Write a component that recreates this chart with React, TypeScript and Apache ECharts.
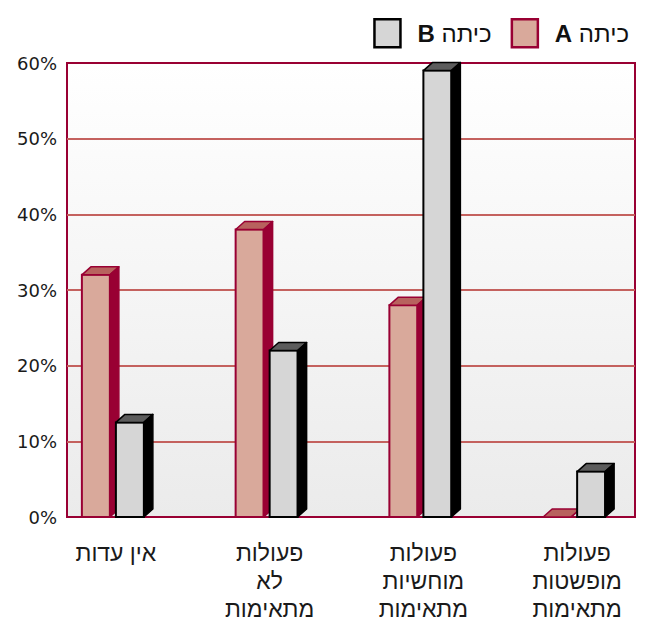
import React, { useEffect, useRef } from "react";
import * as echarts from "echarts";

const categories = [
  "אין עדות",
  "פעולות\nלא\nמתאימות",
  "פעולות\nמוחשיות\nמתאימות",
  "פעולות\nמופשטות\nמתאימות",
];
const seriesNames = ["כיתה A", "כיתה B"];
const classA = [32, 38, 28, 0];
const classB = [12.5, 22, 59, 6];
const yMin = 0;
const yMax = 60;
const yStep = 10;

const styleA = { front: "#D9A99B", top: "#B8625E", side: "#990033", border: "#990033" };
const styleB = { front: "#D6D6D6", top: "#5C5C5C", side: "#000000", border: "#000000" };

function makeRender(st: any, offsetRatio: number) {
  return (params: any, api: any) => {
    const ci = api.value(0);
    const v = api.value(1);
    const band = api.size([1, 0])[0];
    const w = band * 0.182;
    const dx = 9;
    const dy = 8;
    const top = api.coord([ci, v]);
    const base = api.coord([ci, 0]);
    const cx = top[0] + band * offsetRatio;
    const x0 = cx - w / 2;
    const x1 = cx + w / 2;
    const yt = top[1];
    const yb = base[1];
    return {
      type: "group",
      children: [
        {
          type: "rect",
          shape: { x: x0, y: yt, width: w, height: yb - yt },
          style: { fill: st.front, stroke: st.border, lineWidth: 2 },
        },
        {
          type: "polygon",
          shape: { points: [[x0, yt], [x0 + dx, yt - dy], [x1 + dx, yt - dy], [x1, yt]] },
          style: { fill: st.top, stroke: st.border, lineWidth: 1.5, lineJoin: "round" },
        },
        {
          type: "polygon",
          shape: { points: [[x1, yt], [x1 + dx, yt - dy], [x1 + dx, yb - dy], [x1, yb]] },
          style: { fill: st.side, stroke: st.border, lineWidth: 1.5, lineJoin: "round" },
        },
      ],
    };
  };
}

export default function App() {
  const ref = useRef<HTMLDivElement>(null);
  useEffect(() => {
    if (!ref.current) return;
    const chart = echarts.init(ref.current, null, { renderer: "svg" });
    const nSplit = (yMax - yMin) / yStep + 1;
    const splitColors: string[] = [];
    for (let i = 0; i < nSplit; i++) splitColors.push(i === 0 || i === nSplit - 1 ? "#990033" : "#C4615E");
    chart.setOption({
      animation: false,
      backgroundColor: "#ffffff",
      legend: {
        right: 14,
        top: 13,
        itemGap: 19,
        itemWidth: 26,
        itemHeight: 28,
        icon: "rect",
        data: [
          { name: seriesNames[1], itemStyle: { color: styleB.front, borderColor: styleB.border, borderWidth: 2.5 } },
          { name: seriesNames[0], itemStyle: { color: styleA.front, borderColor: styleA.border, borderWidth: 2.5 } },
        ],
        formatter: (name: string) => {
          const letter = name.split(" ")[1];
          const word = name.split(" ")[0];
          return "{b|" + letter + "} {t|" + word + "}";
        },
        textStyle: {
          padding: [0, 0, 0, 12],
          fontSize: 24,
          rich: {
            b: { fontFamily: "Liberation Sans", fontWeight: "bold", fontSize: 24, color: "#111" },
            t: { fontFamily: "Liberation Sans", fontSize: 24, color: "#111" },
          },
        },
      },
      grid: [
        {
          left: 67,
          top: 63,
          width: 568,
          height: 454,
          outerBoundsMode: "none",
          containLabel: false,
          show: true,
          borderWidth: 2,
          borderColor: "#990033",
          backgroundColor: new echarts.graphic.LinearGradient(0, 0, 0, 1, [
            { offset: 0, color: "#FFFFFF" },
            { offset: 1, color: "#EBEBEB" },
          ]),
        },
        { left: 36, top: 63, width: 615, height: 454, outerBoundsMode: "none", containLabel: false },
      ],
      xAxis: [
        { type: "category", gridIndex: 0, data: categories, show: false },
        {
          type: "category",
          gridIndex: 1,
          data: categories,
          axisLine: { show: false },
          axisTick: { show: false },
          axisLabel: {
            margin: 22,
            interval: 0,
            fontFamily: "Liberation Sans",
            fontSize: 23,
            lineHeight: 28,
            color: "#1a1a1a",
            align: "center",
            padding: [0, 0, 0, 6],
          },
        },
      ],
      yAxis: [
        {
          type: "value",
          gridIndex: 0,
          min: yMin,
          max: yMax,
          interval: yStep,
          axisLine: { show: false },
          axisTick: { show: false },
          axisLabel: {
            formatter: "{value}%",
            fontFamily: "DejaVu Sans",
            fontSize: 18,
            color: "#1a1a1a",
            margin: 10,
          },
          splitLine: { show: true, lineStyle: { color: splitColors, width: 2 } },
        },
        { type: "value", gridIndex: 1, min: yMin, max: yMax, interval: yStep, show: false, splitLine: { show: false } },
      ],
      series: [
        {
          name: seriesNames[0],
          type: "custom",
          xAxisIndex: 1,
          yAxisIndex: 1,
          itemStyle: { color: styleA.front },
          renderItem: makeRender(styleA, -0.1106),
          data: classA.map((v, i) => [i, v]),
          encode: { x: 0, y: 1 },
          clip: false,
        },
        {
          name: seriesNames[1],
          type: "custom",
          xAxisIndex: 1,
          yAxisIndex: 1,
          itemStyle: { color: styleB.front },
          renderItem: makeRender(styleB, 0.1106),
          data: classB.map((v, i) => [i, v]),
          encode: { x: 0, y: 1 },
          clip: false,
        },
      ],
    });
    return () => chart.dispose();
  }, []);
  return <div ref={ref} style={{ position: "fixed", left: 0, top: 0, width: 648, height: 624 }} />;
}
